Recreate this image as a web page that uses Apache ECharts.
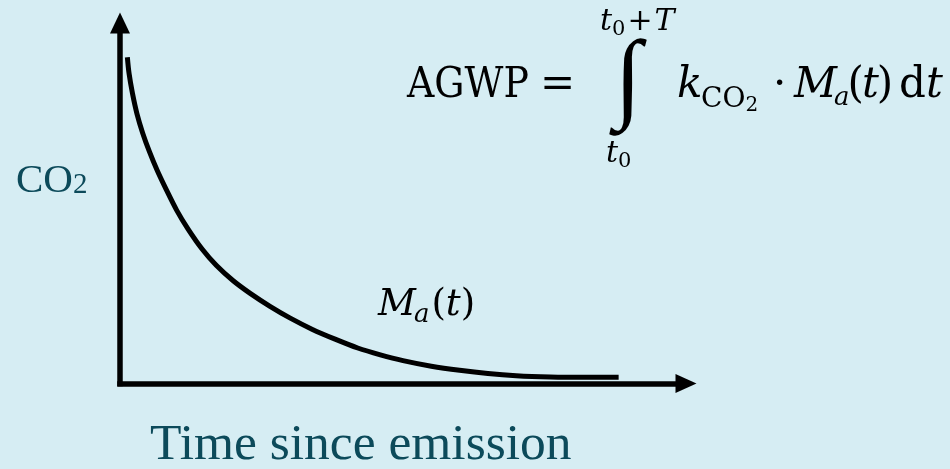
<!DOCTYPE html>
<html>
<head>
<meta charset="utf-8">
<script src="https://cdn.jsdelivr.net/npm/echarts@6/dist/echarts.min.js"></script>
<style>
html,body{margin:0;padding:0;background:#d6edf3;}
#chart{width:950px;height:469px;}
</style>
</head>
<body>
<div id="chart"></div>
<script>
// ---- data ----
const timeSinceEmission = [1.3, 1.6, 2.2, 3.0, 4.0, 5.2, 6.6, 8.2, 10, 12, 14.5, 17, 20, 23, 26.5, 30, 34, 38, 42, 46, 50, 55, 60, 65, 70, 76, 82, 88.1];
const co2Remaining      = [90.5, 86.0, 80.5, 74.8, 69.5, 64.3, 59.0, 53.7, 48.1, 42.9, 37.3, 32.8, 28.5, 25.0, 21.4, 18.2, 15.0, 12.3, 9.85, 7.95, 6.35, 4.8, 3.65, 2.75, 2.15, 1.8, 1.7, 1.75];
const xAxisTitle = 'Time since emission';
const yAxisTitle = ['CO', '2'];
const curveLabel = ['M', 'a', '(', 't', ')'];

// ---- styling ----
const BG = '#d6edf3';
const TEAL = '#0c4a5a';
const TIMES = '"Liberation Serif", "Times New Roman", serif';
const MATH = '"DejaVu Serif", serif';

const ctx = document.createElement('canvas').getContext('2d');
function fontOf(size, italic, family) {
  return (italic ? 'italic ' : '') + size + 'px ' + family;
}
// place a run of text tokens on a common baseline
// token: [text, size, italic, gapBefore, baselineShift, absoluteX, scaleX]
function flow(tokens, x0, baseline, family, color) {
  const out = [];
  let x = x0;
  tokens.forEach(function (tk) {
    const s = tk[0], size = tk[1], italic = tk[2], gap = tk[3] || 0, dy = tk[4] || 0, ax = tk[5], sx = tk[6] || 1;
    x = (ax != null) ? ax : x + gap;
    ctx.font = fontOf(size, italic, family);
    out.push({
      type: 'text', x: x, y: baseline + dy - 0.34 * size, z: 100, silent: true, scaleX: sx,
      style: {
        text: s, fontFamily: family, fontSize: size,
        fontStyle: italic ? 'italic' : 'normal',
        fill: color || '#000', align: 'left', verticalAlign: 'middle'
      }
    });
    x += ctx.measureText(s).width * sx;
  });
  return out;
}

const graphics = [].concat(
  // y axis title
  flow([[yAxisTitle[0], 41, false], [yAxisTitle[1], 29, false]], 16, 195, TIMES, TEAL),
  // x axis title
  flow([[xAxisTitle, 51.5, false]], 150, 463, TIMES, TEAL),
  // curve label M_a(t)
  flow([[curveLabel[0], 37, true], [curveLabel[1], 26, true, -2, 6], [curveLabel[2], 37, false, 2],
        [curveLabel[3], 37, true], [curveLabel[4], 37, false]], 378, 318, MATH, '#000'),
  // formula: AGWP =
  flow([['AGWP', 43, false, 0, 0, 407, 0.88], ['=', 42, false, 0, 0, 540]], 407, 100, MATH, '#000'),
  // upper limit t0+T
  flow([['t', 30, true], ['0', 21, false, 0, 5], ['+', 30, false, 2], ['T', 30, true, 2]], 600, 32, MATH, '#000'),
  // lower limit t0
  flow([['t', 30, true], ['0', 21, false, 0, 5]], 606, 164, MATH, '#000'),
  // integrand
  flow([['k', 42, true, 0, 0, 677], ['CO', 28, false, 0, 9, 701], ['2', 20, false, 0, 13],
        ['·', 42, false, 0, 0, 773], ['M', 42, true, 0, 0, 794], ['a', 26, true, -3, 7],
        ['(', 42, false, -2], ['t', 42, true, -2], [')', 42, false, -2], ['d', 42, false, 0, 0, 899], ['t', 42, true]],
       677, 100, MATH, '#000'),
  // integral sign
  [{
    type: 'text', x: 628, y: 83, z: 100, silent: true,
    style: { text: '∫', fontFamily: TIMES, fontSize: 99, fill: '#000', align: 'center', verticalAlign: 'middle' }
  }]
);

const chart = echarts.init(document.getElementById('chart'));
chart.setOption({
  backgroundColor: BG,
  animation: false,
  grid: { left: 120, right: 264, top: 23, bottom: 85.5, containLabel: false },
  xAxis: {
    type: 'value', min: 0, max: 100,
    axisLine: { show: true, onZero: true, symbol: ['none', 'triangle'], symbolSize: [19, 21],
      lineStyle: { color: '#000', width: 5.5, cap: 'square' } },
    axisTick: { show: false }, axisLabel: { show: false }, splitLine: { show: false }
  },
  yAxis: {
    type: 'value', min: 0, max: 100,
    axisLine: { show: true, symbol: ['none', 'triangle'], symbolSize: [20, 21],
      lineStyle: { color: '#000', width: 5.5, cap: 'square' } },
    axisTick: { show: false }, axisLabel: { show: false }, splitLine: { show: false }
  },
  series: [{
    type: 'line',
    data: timeSinceEmission.map(function (t, i) { return [t, co2Remaining[i]]; }),
    smooth: 0.3,
    showSymbol: false, clip: false,
    lineStyle: { color: '#000', width: 5, cap: 'butt' }
  }],
  graphic: graphics
});
</script>
</body>
</html>
